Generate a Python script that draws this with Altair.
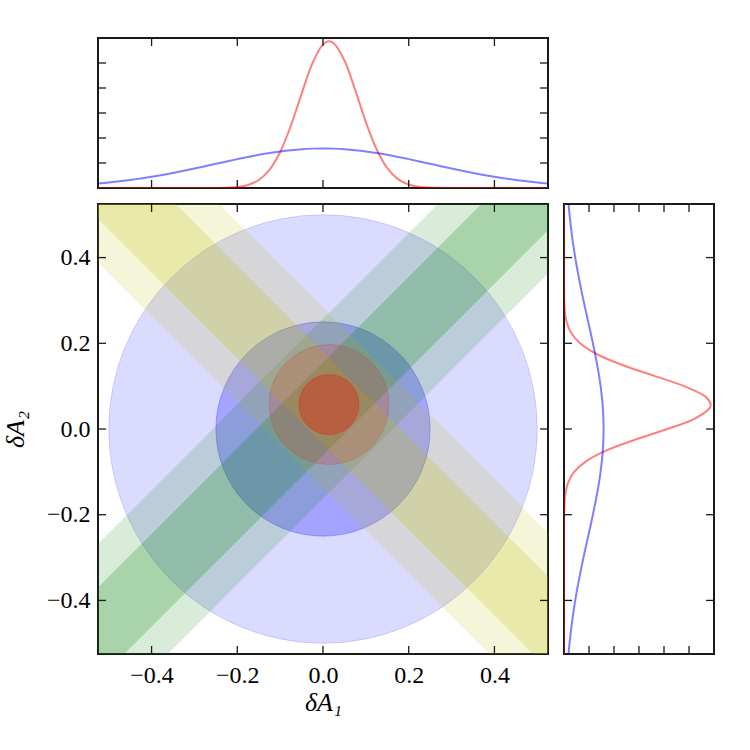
import altair as alt
import pandas as pd

# ---------------- data ----------------
tick_vals = [-0.4, -0.2, 0.0, 0.2, 0.4]
dens_ticks = [1, 2, 3, 4, 5]

top_x = [-0.525, -0.5, -0.475, -0.45, -0.425, -0.4, -0.375, -0.35, -0.325, -0.3,
         -0.275, -0.25, -0.225, -0.2, -0.175, -0.15, -0.125, -0.1, -0.075, -0.05,
         -0.025, 0.0, 0.0125, 0.025, 0.05, 0.075, 0.1, 0.125, 0.15, 0.175,
         0.2, 0.225, 0.25, 0.275, 0.3, 0.325, 0.35, 0.375, 0.4, 0.425,
         0.45, 0.475, 0.5, 0.525]
red_top = [0, 0, 0, 0, 0, 0, 0, 0, 0, 0,
           0.001, 0.003, 0.012, 0.041, 0.123, 0.320, 0.726, 1.440, 2.492, 3.768,
           4.977, 5.744, 5.866, 5.791, 5.100, 3.924, 2.637, 1.548, 0.794, 0.356,
           0.139, 0.048, 0.014, 0.004, 0.001, 0, 0, 0, 0, 0,
           0, 0, 0, 0]
blue_top = [0.181, 0.221, 0.268, 0.321, 0.382, 0.449, 0.523, 0.603, 0.689, 0.779,
            0.873, 0.968, 1.063, 1.155, 1.244, 1.326, 1.400, 1.463, 1.514, 1.552,
            1.575, 1.583, 1.581, 1.575, 1.552, 1.514, 1.463, 1.400, 1.326, 1.244,
            1.155, 1.063, 0.968, 0.873, 0.779, 0.689, 0.603, 0.523, 0.449, 0.382,
            0.321, 0.268, 0.221, 0.181]

right_y = [-0.525, -0.5, -0.475, -0.45, -0.425, -0.4, -0.375, -0.35, -0.325, -0.3,
           -0.275, -0.25, -0.225, -0.2, -0.175, -0.15, -0.125, -0.1, -0.075, -0.05,
           -0.025, 0.0, 0.025, 0.05, 0.0575, 0.075, 0.1, 0.125, 0.15, 0.175,
           0.2, 0.225, 0.25, 0.275, 0.3, 0.325, 0.35, 0.375, 0.4, 0.425,
           0.45, 0.475, 0.5, 0.525]
red_right = [0, 0, 0, 0, 0, 0, 0, 0, 0, 0,
             0, 0, 0.001, 0.005, 0.017, 0.057, 0.163, 0.408, 0.892, 1.701,
             2.836, 4.129, 5.252, 5.836, 5.867, 5.665, 4.803, 3.558, 2.303, 1.303,
             0.643, 0.277, 0.104, 0.034, 0.010, 0.002, 0, 0, 0, 0,
             0, 0, 0, 0]
blue_right = [0.181, 0.221, 0.268, 0.321, 0.382, 0.449, 0.523, 0.603, 0.689, 0.779,
              0.873, 0.968, 1.063, 1.155, 1.244, 1.326, 1.400, 1.463, 1.514, 1.552,
              1.575, 1.583, 1.575, 1.552, 1.542, 1.514, 1.463, 1.400, 1.326, 1.244,
              1.155, 1.063, 0.968, 0.873, 0.779, 0.689, 0.603, 0.523, 0.449, 0.382,
              0.321, 0.268, 0.221, 0.181]

# constraint bands: green  y =  x + c ,  yellow  y = -x + d
green_center = 0.047
yellow_center = 0.073
band_half = [0.21, 0.108]          # outer (2 sigma), inner (1 sigma)
# error circles
blue_center = [0.0, 0.0]
blue_radii = [0.5, 0.25]
red_center = [0.014, 0.057]
red_radii = [0.14, 0.07]

# ---------------- layout ----------------
LIM = 0.525
W = 450
H = 450
M = 150
TL = 8
FONT = "Liberation Serif"
INK = "#1a1a1a"

sx = alt.Scale(domain=[-LIM, LIM], nice=False, zero=False)
sy = alt.Scale(domain=[-LIM, LIM], nice=False, zero=False)
sd = alt.Scale(domain=[0, 6], nice=False, zero=False)

ax_x = alt.Axis(values=tick_vals, format=".1f", ticks=False, domain=False, grid=False,
                title="δA₁", labelPadding=9, titlePadding=2)
ax_y = alt.Axis(values=tick_vals, format=".1f", ticks=False, domain=False, grid=False,
                title="δA₂", labelPadding=8, titlePadding=18)

X_main = alt.X("x:Q", scale=sx, axis=ax_x)
Y_main = alt.Y("y:Q", scale=sy, axis=ax_y)

layers = []
px_per_unit = W / (2 * LIM)


def circle(center, r, color, alpha):
    df = pd.DataFrame({"x": [center[0]], "y": [center[1]]})
    size = (2 * r * px_per_unit) ** 2
    return alt.Chart(df).mark_point(
        filled=True, shape="circle", size=size, fill=color, fillOpacity=alpha,
        stroke=color, strokeOpacity=alpha, strokeWidth=1,
    ).encode(x=X_main, y=Y_main)


def band(center, half, sign, color, alpha):
    xs = [-LIM, LIM]
    df = pd.DataFrame({
        "x": xs,
        "y": [sign * v + center - half for v in xs],
        "y2": [sign * v + center + half for v in xs],
    })
    return alt.Chart(df).mark_area(clip=True, color=color, opacity=alpha).encode(
        x=X_main, y=Y_main, y2="y2:Q")


for r, a in zip(blue_radii, [0.14, 0.25]):
    layers.append(circle(blue_center, r, "#0000ff", a))

band_alpha = [0.15, 0.22]
for h, a in zip(band_half, band_alpha):
    layers.append(band(green_center, h, 1, "#008000", a))
for h, a in zip(band_half, band_alpha):
    layers.append(band(yellow_center, h, -1, "#bfbf00", a))

for r, a in zip(red_radii, [0.15, 0.3]):
    layers.append(circle(red_center, r, "#ff0000", a))

tick_df_x = pd.DataFrame({"x": tick_vals})
tick_df_y = pd.DataFrame({"y": tick_vals})
rule = dict(color=INK, strokeWidth=1.3)
layers.append(alt.Chart(tick_df_x).mark_rule(**rule).encode(
    x=X_main, y=alt.value(H), y2=alt.value(H - TL)))
layers.append(alt.Chart(tick_df_x).mark_rule(**rule).encode(
    x=X_main, y=alt.value(0), y2=alt.value(TL)))
layers.append(alt.Chart(tick_df_y).mark_rule(**rule).encode(
    y=Y_main, x=alt.value(0), x2=alt.value(TL)))
layers.append(alt.Chart(tick_df_y).mark_rule(**rule).encode(
    y=Y_main, x=alt.value(W), x2=alt.value(W - TL)))

main = alt.layer(*layers).properties(width=W, height=H)

# ---------------- top marginal ----------------
X_top = alt.X("x:Q", scale=sx, axis=None)
Y_top = alt.Y("d:Q", scale=sd, axis=None)
top_red = alt.Chart(pd.DataFrame({"x": top_x, "d": red_top})).mark_line(
    color="#ff0000", opacity=0.5, strokeWidth=2, interpolate="catmull-rom", clip=True
).encode(x=X_top, y=Y_top)
top_blue = alt.Chart(pd.DataFrame({"x": top_x, "d": blue_top})).mark_line(
    color="#0000ff", opacity=0.5, strokeWidth=2, interpolate="catmull-rom", clip=True
).encode(x=X_top, y=Y_top)
dtick = pd.DataFrame({"d": dens_ticks})
top_layers = [
    top_red, top_blue,
    alt.Chart(tick_df_x).mark_rule(**rule).encode(x=X_top, y=alt.value(M), y2=alt.value(M - TL)),
    alt.Chart(tick_df_x).mark_rule(**rule).encode(x=X_top, y=alt.value(0), y2=alt.value(TL)),
    alt.Chart(dtick).mark_rule(**rule).encode(y=Y_top, x=alt.value(0), x2=alt.value(TL)),
    alt.Chart(dtick).mark_rule(**rule).encode(y=Y_top, x=alt.value(W), x2=alt.value(W - TL)),
]
top = alt.layer(*top_layers).properties(width=W, height=M)

# ---------------- right marginal ----------------
X_r = alt.X("d:Q", scale=sd, axis=None)
Y_r = alt.Y("y:Q", scale=sy, axis=None)
r_red = alt.Chart(pd.DataFrame({"y": right_y, "d": red_right})).mark_line(
    color="#ff0000", opacity=0.5, strokeWidth=2, interpolate="catmull-rom", clip=True
).encode(x=X_r, y=Y_r, order="y:Q")
r_blue = alt.Chart(pd.DataFrame({"y": right_y, "d": blue_right})).mark_line(
    color="#0000ff", opacity=0.5, strokeWidth=2, interpolate="catmull-rom", clip=True
).encode(x=X_r, y=Y_r, order="y:Q")
right_layers = [
    r_red, r_blue,
    alt.Chart(tick_df_y).mark_rule(**rule).encode(y=Y_r, x=alt.value(0), x2=alt.value(TL)),
    alt.Chart(tick_df_y).mark_rule(**rule).encode(y=Y_r, x=alt.value(M), x2=alt.value(M - TL)),
    alt.Chart(dtick).mark_rule(**rule).encode(x=X_r, y=alt.value(H), y2=alt.value(H - TL)),
    alt.Chart(dtick).mark_rule(**rule).encode(x=X_r, y=alt.value(0), y2=alt.value(TL)),
]
right = alt.layer(*right_layers).properties(width=M, height=H)

# ---------------- placeholder ----------------
blank = alt.Chart(pd.DataFrame({"d": [0]})).mark_point(opacity=0).encode(
    x=alt.X("d:Q", axis=None), y=alt.Y("d:Q", axis=None)
).properties(width=M, height=M, view=alt.ViewBackground(strokeOpacity=0))

chart = alt.concat(top, blank, main, right, columns=2, spacing=12).properties(
    align="each",
    padding={"left": 1, "top": 36, "right": 5, "bottom": 5},
).configure_view(
    stroke=INK, strokeWidth=2
).configure_axis(
    labelFont=FONT, labelFontSize=24, labelColor="black",
    titleFont=FONT, titleFontSize=26, titleFontWeight="normal",
    titleFontStyle="italic", titleColor="black",
)

chart.save("out.html", embed_options={"renderer": "svg", "actions": False})
